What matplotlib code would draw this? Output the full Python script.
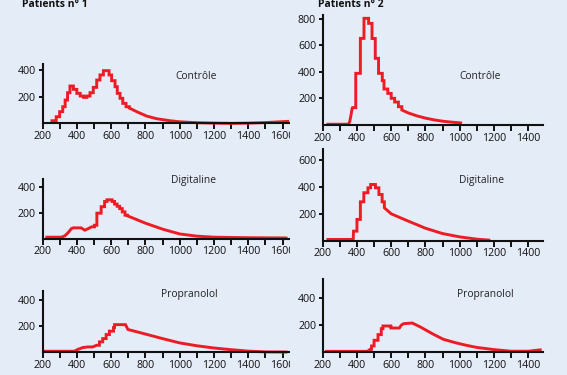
import matplotlib
matplotlib.use("Agg")
import matplotlib.pyplot as plt
from matplotlib.patches import Rectangle

plt.rcParams['font.family'] = ['Open Sans', 'DejaVu Sans']

BG = '#E4ECF7'
RED = '#ED1C24'

# ---- data (x: ms, y: count) ----
# Patient 1, Contrôle
p1_ctrl_edges = [255, 280, 300, 318, 332, 346, 360, 380, 400, 420, 440, 458, 477,
                 496, 516, 535, 555, 588, 603, 623, 636, 652, 668, 687, 706]
p1_ctrl_heights = [20, 50, 88, 125, 175, 230, 280, 255, 225, 205, 195, 205, 230,
                   270, 325, 363, 395, 363, 320, 275, 225, 188, 150, 125]
p1_ctrl_tail_x = [706, 749, 807, 866, 943, 1000, 1100, 1200, 1300, 1400, 1500, 1630]
p1_ctrl_tail_y = [115, 88, 55, 35, 20, 12, 5, 2, 0, 2, 6, 15]

# Patient 2, Contrôle
p2_ctrl_lead_x = [230, 350, 358, 366, 372]
p2_ctrl_lead_y = [5, 5, 25, 80, 125]
p2_ctrl_edges = [374, 393, 420, 441, 468, 488, 507, 526, 548, 558, 580, 600, 620, 642, 662]
p2_ctrl_heights = [130, 388, 651, 802, 764, 650, 501, 388, 333, 270, 237, 200, 172, 137]
p2_ctrl_tail_x = [662, 700, 750, 800, 850, 900, 950, 1005]
p2_ctrl_tail_y = [112, 90, 68, 51, 38, 28, 21, 15]

# Patient 1, Digitaline
p1_dig_lead_x = [225, 310, 330, 350, 369, 380, 425, 447, 468]
p1_dig_lead_y = [10, 10, 20, 46, 77, 82, 82, 64, 77]
p1_dig_edges = [487, 503, 517, 542, 562, 576, 606, 620, 635, 650, 665, 681, 694]
p1_dig_heights = [90, 102, 195, 245, 285, 298, 285, 265, 248, 230, 205, 180]
p1_dig_tail_x = [694, 700, 800, 900, 1000, 1100, 1200, 1400, 1620]
p1_dig_tail_y = [175, 172, 118, 72, 35, 18, 10, 6, 4]

# Patient 2, Digitaline
p2_dig_lead_x = [230, 378]
p2_dig_lead_y = [8, 8]
p2_dig_edges = [380, 400, 420, 440, 464, 480, 508, 528, 547, 560]
p2_dig_heights = [70, 158, 290, 358, 395, 420, 395, 345, 290]
p2_dig_tail_x = [560, 600, 700, 800, 900, 1000, 1100, 1170]
p2_dig_tail_y = [245, 200, 145, 92, 52, 27, 10, 3]

# Patient 1, Propranolol
p1_prop_lead_x = [215, 385, 404, 434, 463, 492]
p1_prop_lead_y = [8, 8, 21, 36, 41, 41]
p1_prop_edges = [516, 532, 551, 571, 590, 614, 620, 684]
p1_prop_heights = [54, 80, 105, 136, 162, 190, 212]
p1_prop_tail_x = [684, 698, 800, 900, 1000, 1100, 1200, 1300, 1400, 1500, 1620]
p1_prop_tail_y = [212, 175, 140, 105, 72, 50, 33, 20, 9, 3, 2]

# Patient 2, Propranolol
p2_prop_lead_x = [222, 462]
p2_prop_lead_y = [7, 7]
p2_prop_edges = [476, 485, 500, 523, 542, 552, 598, 648]
p2_prop_heights = [22, 47, 89, 131, 175, 195, 180]
p2_prop_tail_x = [648, 658, 672, 723, 771, 847, 905, 981, 1038, 1100, 1200, 1300, 1400, 1470]
p2_prop_tail_y = [180, 200, 212, 217, 187, 133, 96, 69, 52, 36, 20, 8, 8, 18]

p1_xticks = [200, 300, 400, 500, 600, 700, 800, 900, 1000, 1100, 1200, 1300, 1400, 1500, 1600]
p2_xticks = [200, 300, 400, 500, 600, 700, 800, 900, 1000, 1100, 1200, 1300, 1400]
titles = ['Patients n° 1', 'Patients n° 2']
labels = ['Contrôle', 'Digitaline', 'Propranolol']


def curve(lead_x, lead_y, edges, heights, tail_x, tail_y):
    xs, ys = list(lead_x), list(lead_y)
    for i, h in enumerate(heights):
        xs += [edges[i], edges[i + 1]]
        ys += [h, h]
    return xs + list(tail_x), ys + list(tail_y)


W, H = 567, 375
fig = plt.figure(figsize=(W / 100, H / 100), dpi=100, facecolor=BG)


def make_axes(left, right, zero, top, xmax, ymax, xticks, yticks, z=1):
    ax = fig.add_axes([left / W, 1 - zero / H, (right - left) / W, (zero - top) / H], zorder=z)
    ax.set_facecolor('none')
    ax.set_xlim(200, xmax)
    ax.set_ylim(0, ymax)
    for s in ['top', 'right']:
        ax.spines[s].set_visible(False)
    for s in ['left', 'bottom']:
        ax.spines[s].set_linewidth(1.5)
        ax.spines[s].set_color('#111111')
        ax.spines[s].set_clip_on(False)
    ax.set_xticks(xticks)
    ax.set_xticklabels([str(t) if t % 200 == 0 else '' for t in xticks])
    ax.set_yticks(yticks)
    ax.tick_params(axis='x', length=4, width=1.4, pad=1.5, labelsize=7.7, colors='#111111')
    ax.tick_params(axis='y', length=3, width=1.4, pad=1.8, labelsize=7.7, colors='#111111')
    return ax


panels = [
    # left, right, zero, top, xmax, ymax, xticks, yticks, curve, label, label pos, zorder
    (42.5, 290, 123.4, 64, 1643, 445, p1_xticks, [200, 400],
     curve([], [], p1_ctrl_edges, p1_ctrl_heights, p1_ctrl_tail_x, p1_ctrl_tail_y), labels[0], (175.5, 76.7), 1),
    (322.7, 543.3, 124.9, 15, 1488, 827, p2_xticks, [200, 400, 600, 800],
     curve(p2_ctrl_lead_x, p2_ctrl_lead_y, p2_ctrl_edges, p2_ctrl_heights, p2_ctrl_tail_x, p2_ctrl_tail_y), labels[0], (459, 76.7), 3),
    (42.5, 290, 238.5, 179, 1643, 458, p1_xticks, [200, 400],
     curve(p1_dig_lead_x, p1_dig_lead_y, p1_dig_edges, p1_dig_heights, p1_dig_tail_x, p1_dig_tail_y), labels[1], (171, 180.7), 1),
    (322.7, 543.3, 240.5, 149, 1488, 686, p2_xticks, [200, 400, 600],
     curve(p2_dig_lead_x, p2_dig_lead_y, p2_dig_edges, p2_dig_heights, p2_dig_tail_x, p2_dig_tail_y), labels[1], (459, 180.7), 3),
    (42.5, 290, 352.3, 291, 1643, 470, p1_xticks, [200, 400],
     curve(p1_prop_lead_x, p1_prop_lead_y, p1_prop_edges, p1_prop_heights, p1_prop_tail_x, p1_prop_tail_y), labels[2], (161.5, 294.5), 1),
    (322.7, 543.3, 352.3, 279, 1488, 543, p2_xticks, [200, 400],
     curve(p2_prop_lead_x, p2_prop_lead_y, p2_prop_edges, p2_prop_heights, p2_prop_tail_x, p2_prop_tail_y), labels[2], (457.5, 295), 3),
]

for left, right, zero, top, xmax, ymax, xt, yt, (cx, cy), lab, (lx, ly), z in panels:
    ax = make_axes(left, right, zero, top, xmax, ymax, xt, yt, z)
    ax.plot(cx, cy, color=RED, lw=2.1, solid_joinstyle='miter', clip_on=False)
    fig.text(lx / W, 1 - ly / H, lab, ha='left', va='center', fontsize=7.4, color='#222222')

# the right column covers the end of the left column (cut "1600")
fig.patches.append(Rectangle((290 / W, 0), 1 - 290 / W, 1, transform=fig.transFigure,
                             facecolor=BG, edgecolor='none', zorder=2))

fig.text(22 / W, 1 - 7.3 / H, titles[0], ha='left', va='baseline', fontsize=7.5,
         fontweight='bold', color='#111111')
fig.text(318 / W, 1 - 7.3 / H, titles[1], ha='left', va='baseline', fontsize=7.5,
         fontweight='bold', color='#111111', zorder=4)

fig.savefig('out.png', dpi=100, facecolor=BG)
